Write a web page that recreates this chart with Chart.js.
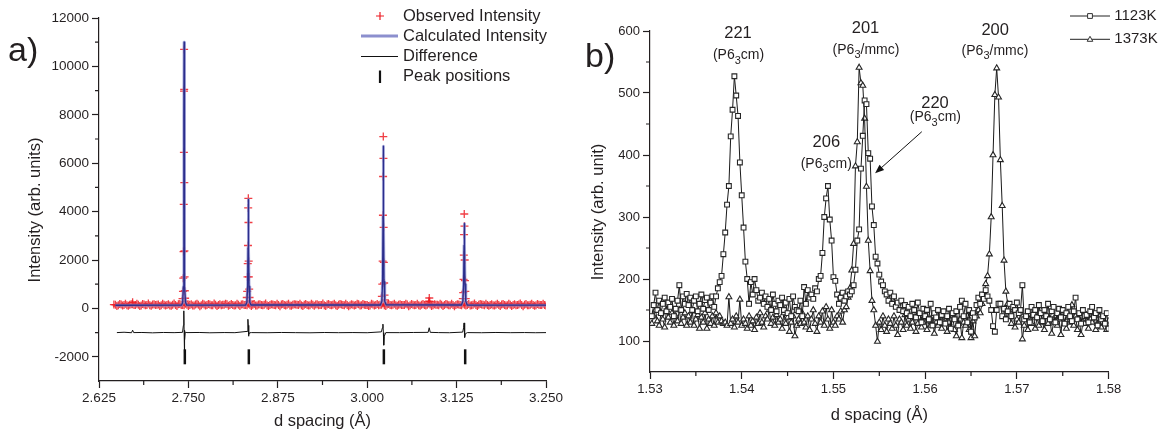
<!DOCTYPE html>
<html>
<head>
<meta charset="utf-8">
<script src="https://cdn.jsdelivr.net/npm/chart.js@4.4.0/dist/chart.umd.min.js"></script>
<style>
  html, body { margin: 0; padding: 0; background: #fff; }
  #wrap { position: relative; width: 1165px; height: 434px; }
  #panelA { position: absolute; left: 0; top: 0; }
  #panelB { position: absolute; left: 580px; top: 0; }
</style>
</head>
<body>
<div id="wrap">
  <canvas id="panelA" width="580" height="434"></canvas>
  <canvas id="panelB" width="585" height="434"></canvas>
</div>
<script>
'use strict';

// ---- panel a) data ----
const aXTicks = [2.625, 2.750, 2.875, 3.000, 3.125, 3.250];
const aXMinor = [2.6875, 2.8125, 2.9375, 3.0625, 3.1875];
const aYTicks = [-2000, 0, 2000, 4000, 6000, 8000, 10000, 12000];
const aYMinor = [-1000, 1000, 3000, 5000, 7000, 9000, 11000];

// observed background, one value every 0.004 A from 2.648 and again from 2.650
const obsBgStart = 2.648;
const obsBgStart2 = 2.650;
const obsBgStep = 0.004;
const obsBackground = [
  150, 135, 160, 142, 128, 155, 170, 138, 148, 125, 160, 145, 132, 158, 140,
  165, 130, 150, 142, 120, 155, 138, 168, 145, 130, 152, 140, 125, 160, 148,
  135, 158, 142, 165, 128, 150, 140, 132, 155, 170, 138, 145, 126, 150, 160,
  140, 130, 155, 148, 122, 162, 138, 150, 135, 145, 158, 128, 142, 165, 136,
  150, 125, 148, 160, 138, 132, 155, 142, 128, 150, 165, 135, 145, 130, 158,
  140, 152, 126, 148, 162, 135, 145, 130, 155, 140, 168, 132, 150, 138, 125,
  158, 145, 135, 150, 128, 162, 140, 148, 132, 155, 138, 145, 160, 130, 150,
  142, 126, 155, 138, 150, 165, 135, 148, 128, 152, 140, 158, 132, 145, 138,
  160, 130, 150, 142, 125, 155, 138, 148, 165, 132, 145, 140, 128, 152, 136,
  158, 142, 130, 150, 145, 126, 160, 138, 148, 135, 155, 140, 130, 150, 145, 138
];
const obsBackground2 = [
  100, 180, 120, 195, 105, 170, 140, 190, 95, 185, 130, 198, 108, 175, 150,
  98, 192, 125, 172, 112, 200, 100, 182, 140, 195, 104, 168, 120, 196, 94,
  188, 115, 178, 130, 198, 96, 172, 150, 192, 108, 182, 125, 196, 100, 168,
  140, 194, 95, 186, 118, 176, 135, 198, 104, 172, 145, 190, 92, 182, 125,
  196, 106, 170, 150, 188, 96, 182, 120, 194, 110, 172, 140, 200, 98, 178,
  130, 192, 102, 186, 145, 196, 94, 172, 125, 194, 115, 182, 140, 98, 190,
  120, 178, 150, 198, 100, 186, 130, 194, 106, 172, 145, 196, 94, 182, 135,
  192, 110, 178, 125, 198, 98, 170, 150, 194, 104, 186, 135, 196, 92, 172,
  140, 194, 115, 182, 130, 200, 96, 178, 150, 192, 106, 172, 125, 196, 98,
  182, 120, 194, 104, 172, 145, 198, 94, 186, 130, 192, 110, 178, 140, 196, 120
];
// observed points on the reflections  [d, intensity]
const obsPeaks = [
  [2.6458, 160], [2.6720, 250],
  [2.7418, 400], [2.7424, 700], [2.7428, 1250], [2.7432, 2350], [2.7435, 4300], [2.7437, 6450],
  [2.7439, 8980], [2.7440, 10700], [2.7441, 9050], [2.7443, 5200], [2.7445, 2380], [2.7447, 1300],
  [2.7450, 730], [2.7454, 420], [2.7460, 300],
  [2.8316, 450], [2.8322, 700], [2.8326, 1300], [2.8330, 1850], [2.8333, 2600], [2.8336, 4150],
  [2.8338, 4550], [2.8340, 3550], [2.8343, 1950], [2.8346, 1300], [2.8350, 800], [2.8355, 450], [2.8360, 300],
  [3.0205, 500], [3.0211, 1000], [3.0216, 1950], [3.0220, 3850], [3.0222, 5450], [3.0225, 7100],
  [3.0227, 6200], [3.0230, 3350], [3.0233, 1900], [3.0237, 1050], [3.0242, 550], [3.0248, 350],
  [3.0862, 300], [3.0868, 430], [3.0874, 280],
  [3.1337, 400], [3.1342, 650], [3.1347, 1200], [3.1351, 2200], [3.1354, 3050], [3.1357, 3900],
  [3.1360, 3400], [3.1363, 2000], [3.1367, 1150], [3.1372, 700], [3.1378, 400]
];
const calcPoints = [
  [2.648, 130], [2.7405, 135], [2.7420, 250], [2.7430, 900], [2.7435, 3500], [2.7438, 8000],
  [2.7440, 11000], [2.7442, 8000], [2.7445, 3500], [2.7450, 900], [2.7460, 250], [2.7475, 140],
  [2.8300, 135], [2.8318, 250], [2.8328, 900], [2.8334, 2500], [2.8338, 4500], [2.8342, 2500],
  [2.8348, 900], [2.8358, 250], [2.8375, 140],
  [3.0185, 140], [3.0205, 300], [3.0215, 1100], [3.0221, 3800], [3.0225, 6700], [3.0229, 3800],
  [3.0235, 1100], [3.0245, 300], [3.0265, 145],
  [3.1318, 140], [3.1338, 300], [3.1348, 1000], [3.1354, 2600], [3.1358, 3500], [3.1362, 2600],
  [3.1368, 1000], [3.1378, 300], [3.1398, 140], [3.250, 135]
];
const diffPoints = [
  [2.650, -1000], [2.660, -985], [2.6705, -1005], [2.6720, -900], [2.6735, -1000], [2.685, -995],
  [2.700, -1010], [2.715, -995], [2.730, -1002], [2.7418, -990], [2.7430, -700], [2.7436, -100],
  [2.7440, -900], [2.7444, -2050], [2.7449, -1300], [2.7456, -980], [2.748, -1000], [2.765, -995],
  [2.780, -1008], [2.800, -998], [2.815, -1003], [2.8322, -950], [2.8332, -450], [2.8337, -700],
  [2.8341, -1150], [2.8346, -1080], [2.8354, -1010], [2.838, -1000], [2.860, -1005], [2.880, -995],
  [2.900, -1002], [2.920, -1008], [2.940, -996], [2.960, -1003], [2.980, -998], [3.000, -1005],
  [3.0198, -970], [3.0213, -800], [3.0220, -650], [3.0226, -1000], [3.0231, -1520], [3.0239, -1150],
  [3.0260, -1000], [3.045, -1002], [3.065, -995], [3.0852, -990], [3.0867, -800], [3.0882, -990],
  [3.100, -1000], [3.115, -1005], [3.1335, -980], [3.1348, -800], [3.1354, -600], [3.1360, -900],
  [3.1365, -1200], [3.1372, -1050], [3.1400, -1000], [3.160, -1005], [3.180, -995], [3.200, -1003],
  [3.220, -998], [3.235, -1005], [3.250, -1000]
];
const peakPosD = [2.7450, 2.8345, 3.0233, 3.1370];
const peakPosI = [-2000, -2000, -2000, -2000];

// ---- panel b) data ----
const bXTicks = [1.53, 1.54, 1.55, 1.56, 1.57, 1.58];
const bXMinor = [1.535, 1.545, 1.555, 1.565, 1.575];
const bYTicks = [100, 200, 300, 400, 500, 600];
const bYMinor = [150, 250, 350, 450, 550];

// one value every 0.0002 A from 1.5302
const bStart = 1.5302;
const bStep = 0.0002;
const k1123 = [
  140, 158, 178, 150, 165, 145, 160, 170, 148, 162,
  155, 168, 140, 152, 165, 190, 150, 172, 160, 176,
  158, 170, 150, 165, 172, 148, 160, 175, 152, 166,
  170, 150, 162, 172, 155, 172, 185, 195, 205, 240,
  275, 320, 350, 430, 473, 527, 496, 463, 388, 335,
  283, 228, 200, 160, 195, 175, 200, 182, 165, 170,
  178, 160, 172, 155, 168, 150, 175, 160, 148, 165,
  158, 170, 150, 162, 145, 168, 140, 172, 155, 150,
  148, 165, 140, 187, 160, 182, 170, 175, 168, 185,
  180, 200, 205, 242, 300, 330, 350, 296, 262, 203,
  197, 175, 160, 170, 178, 165, 172, 180, 175, 180,
  190, 215, 262, 280, 378, 431, 488, 482, 403, 394,
  317, 287, 236, 225, 207, 196, 190, 180, 175, 165,
  178, 160, 172, 155, 162, 150, 165, 148, 158, 145,
  155, 140, 160, 150, 138, 162, 145, 130, 152, 140,
  150, 135, 160, 125, 145, 138, 150, 130, 142, 148,
  128, 140, 152, 120, 145, 135, 148, 125, 155, 165,
  140, 160, 130, 150, 115, 145, 138, 158, 170, 160,
  175, 168, 182, 172, 165, 150, 124, 115, 150, 160,
  160, 140, 152, 135, 148, 160, 140, 155, 150, 162,
  145, 150, 190, 135, 140, 148, 130, 155, 142, 150,
  138, 158, 145, 132, 150, 140, 160, 135, 148, 155,
  130, 145, 152, 138, 150, 128, 145, 155, 140, 132,
  148, 170, 135, 145, 128, 150, 140, 142, 130, 148,
  155, 138, 145, 125, 150, 135, 140, 128, 145, 120
];
const k1373 = [
  128, 140, 150, 132, 125, 145, 135, 122, 150, 138,
  130, 145, 125, 140, 132, 150, 128, 138, 145, 125,
  140, 130, 148, 125, 135, 142, 120, 138, 130, 145,
  120, 135, 128, 140, 125, 145, 130, 140, 132, 128,
  130, 125, 171, 128, 135, 122, 140, 130, 167, 125,
  135, 128, 120, 140, 125, 132, 118, 138, 128, 145,
  130, 122, 140, 135, 150, 128, 138, 125, 142, 130,
  135, 120, 145, 128, 138, 115, 130, 140, 108, 125,
  135, 128, 145, 130, 122, 140, 118, 135, 150, 128,
  115, 140, 130, 148, 125, 155, 135, 120, 150, 130,
  125, 140, 135, 148, 130, 150, 155, 170, 185, 214,
  257, 382, 421, 541, 516, 512, 459, 349, 262, 213,
  165, 150, 125, 99, 130, 118, 140, 125, 115, 135,
  128, 120, 140, 125, 110, 135, 130, 118, 142, 125,
  135, 120, 130, 145, 115, 128, 138, 122, 130, 140,
  118, 132, 125, 140, 112, 130, 125, 138, 120, 128,
  135, 115, 130, 122, 140, 118, 108, 128, 135, 105,
  130, 125, 140, 118, 105, 132, 108, 140, 150, 145,
  160, 175, 192, 205, 240, 300, 400, 497, 540, 493,
  392, 318, 230, 180, 160, 140, 128, 150, 122, 135,
  130, 145, 103, 125, 140, 118, 135, 128, 145, 120,
  138, 125, 150, 130, 118, 142, 128, 135, 112, 130,
  140, 125, 135, 110, 145, 128, 120, 138, 130, 158,
  125, 140, 118, 135, 110, 130, 128, 142, 120, 135,
  130, 145, 118, 128, 140, 122, 135, 128, 118, 132
];
const bPeakNames = ['221', '201', '206', '220', '200'];
const bPhaseTails = ['cm)', '/mmc)', 'cm)', 'cm)', '/mmc)'];

// ---- drawing ----
const FONT = "'Liberation Sans', Arial, Helvetica, sans-serif";
const AXIS = '#231f20';
Chart.defaults.font.family = FONT;
Chart.defaults.color = AXIS;

const toXY = p => ({ x: p[0], y: p[1] });
const obsData = obsBackground.map((v, i) => ({ x: obsBgStart + i * obsBgStep, y: v }))
  .concat(obsBackground2.map((v, i) => ({ x: obsBgStart2 + i * obsBgStep, y: v })))
  .concat(obsPeaks.map(toXY));
const calcData = calcPoints.map(toXY);
const diffData = diffPoints.map(toXY);
const tickData = peakPosD.map((d, i) => ({ x: d, y: peakPosI[i] }));
const d1123 = k1123.map((v, i) => ({ x: bStart + i * bStep, y: v }));
const d1373 = k1373.map((v, i) => ({ x: bStart + i * bStep, y: v }));

function axisOpts(ticks, fmt, size, pad, min, max, fit) {
  return {
    type: 'linear', min: min, max: max,
    afterBuildTicks: s => { s.ticks = ticks.map(v => ({ value: v })); },
    afterFit: fit,
    ticks: { callback: fmt, font: { size: size }, color: AXIS, padding: pad, maxRotation: 0, autoSkip: false },
    grid: { drawOnChartArea: false, drawTicks: true, tickLength: 7, tickColor: AXIS, tickWidth: 1.2 },
    border: { display: true, color: AXIS, width: 1.2 }
  };
}

function minorTicks(chart, xs, ys) {
  const ctx = chart.ctx, a = chart.chartArea;
  ctx.strokeStyle = AXIS;
  ctx.lineWidth = 1.2;
  ctx.beginPath();
  xs.forEach(v => {
    const px = chart.scales.x.getPixelForValue(v);
    ctx.moveTo(px, a.bottom); ctx.lineTo(px, a.bottom + 4);
  });
  ys.forEach(v => {
    const py = chart.scales.y.getPixelForValue(v);
    ctx.moveTo(a.left - 4, py); ctx.lineTo(a.left, py);
  });
  ctx.stroke();
}

function axisTitles(ctx, xText, xc, xy, yText, yx, yc) {
  ctx.fillStyle = AXIS;
  ctx.font = '16.5px ' + FONT;
  ctx.textAlign = 'center';
  ctx.textBaseline = 'middle';
  ctx.fillText(xText, xc, xy);
  ctx.save();
  ctx.translate(yx, yc);
  ctx.rotate(-Math.PI / 2);
  ctx.fillText(yText, 0, 0);
  ctx.restore();
}

function drawPhase(ctx, tail, cx, cy) {
  const big = '14px ' + FONT, small = '11px ' + FONT;
  ctx.font = big;
  const w1 = ctx.measureText('(P6').width;
  const w3 = ctx.measureText(tail).width;
  ctx.font = small;
  const w2 = ctx.measureText('3').width;
  let x = cx - (w1 + w2 + w3) / 2;
  ctx.textAlign = 'left';
  ctx.textBaseline = 'middle';
  ctx.font = big; ctx.fillText('(P6', x, cy); x += w1;
  ctx.font = small; ctx.fillText('3', x, cy + 5); x += w2;
  ctx.font = big; ctx.fillText(tail, x, cy);
}

const overlayA = {
  id: 'overlayA',
  afterDraw(chart) {
    const ctx = chart.ctx, a = chart.chartArea;
    ctx.save();
    minorTicks(chart, aXMinor, aYMinor);
    axisTitles(ctx, 'd spacing (Å)', (a.left + a.right) / 2, 421, 'Intensity (arb. units)', 35, 210);

    ctx.font = '34px ' + FONT;
    ctx.textAlign = 'left';
    ctx.textBaseline = 'alphabetic';
    ctx.fillText('a)', 8, 61);

    // legend
    ctx.strokeStyle = 'rgb(237,28,36)';
    ctx.lineWidth = 1.2;
    ctx.beginPath();
    ctx.moveTo(376, 16); ctx.lineTo(384, 16);
    ctx.moveTo(380, 12); ctx.lineTo(380, 20);
    ctx.stroke();
    ctx.strokeStyle = 'rgb(140,143,206)';
    ctx.lineWidth = 3;
    ctx.beginPath(); ctx.moveTo(361, 36); ctx.lineTo(398, 36); ctx.stroke();
    ctx.strokeStyle = '#111';
    ctx.lineWidth = 1.2;
    ctx.beginPath(); ctx.moveTo(361, 56.5); ctx.lineTo(398, 56.5); ctx.stroke();
    ctx.lineWidth = 2.2;
    ctx.beginPath(); ctx.moveTo(380, 70.5); ctx.lineTo(380, 83); ctx.stroke();

    ctx.fillStyle = AXIS;
    ctx.font = '16.5px ' + FONT;
    ctx.textBaseline = 'middle';
    ['Observed Intensity', 'Calculated Intensity', 'Difference', 'Peak positions']
      .forEach((t, i) => ctx.fillText(t, 403, [16, 36, 56.5, 76.5][i]));
    ctx.restore();
  }
};

const overlayB = {
  id: 'overlayB',
  afterDraw(chart) {
    const ctx = chart.ctx, a = chart.chartArea;
    ctx.save();
    minorTicks(chart, bXMinor, bYMinor);
    axisTitles(ctx, 'd spacing (Å)', (a.left + a.right) / 2, 415, 'Intensity (arb. unit)', 18.7, 212);

    ctx.font = '34px ' + FONT;
    ctx.textAlign = 'left';
    ctx.textBaseline = 'alphabetic';
    ctx.fillText('b)', 5, 66.5);

    // peak labels
    const nameAt = [[158, 33.3], [285.5, 28.5], [246.3, 142.7], [355, 103.3], [415.2, 30]];
    const phaseAt = [[158.5, 55.5], [286, 50], [246.3, 164], [355.4, 117.5], [415, 51]];
    bPeakNames.forEach((n, i) => {
      ctx.font = '16.5px ' + FONT;
      ctx.textAlign = 'center';
      ctx.textBaseline = 'middle';
      ctx.fillText(n, nameAt[i][0], nameAt[i][1]);
      drawPhase(ctx, bPhaseTails[i], phaseAt[i][0], phaseAt[i][1]);
    });

    // arrow to the 220 reflection
    const x0 = 341.8, y0 = 131.7, x1 = 295.1, y1 = 173.3;
    const ang = Math.atan2(y1 - y0, x1 - x0);
    ctx.strokeStyle = '#111';
    ctx.fillStyle = '#111';
    ctx.lineWidth = 1;
    ctx.beginPath(); ctx.moveTo(x0, y0); ctx.lineTo(x1 - 6 * Math.cos(ang), y1 - 6 * Math.sin(ang)); ctx.stroke();
    ctx.beginPath();
    ctx.moveTo(x1, y1);
    ctx.lineTo(x1 - 9 * Math.cos(ang) + 3.5 * Math.sin(ang), y1 - 9 * Math.sin(ang) - 3.5 * Math.cos(ang));
    ctx.lineTo(x1 - 9 * Math.cos(ang) - 3.5 * Math.sin(ang), y1 - 9 * Math.sin(ang) + 3.5 * Math.cos(ang));
    ctx.closePath();
    ctx.fill();

    // legend
    [16, 39.3].forEach((ly, i) => {
      ctx.strokeStyle = '#222';
      ctx.lineWidth = 1;
      ctx.beginPath(); ctx.moveTo(490, ly); ctx.lineTo(530, ly); ctx.stroke();
      ctx.fillStyle = '#fff';
      ctx.strokeStyle = '#333';
      ctx.beginPath();
      if (i === 0) {
        ctx.rect(507.6, ly - 2.4, 4.8, 4.8);
      } else {
        ctx.moveTo(510, ly - 3); ctx.lineTo(512.8, ly + 2); ctx.lineTo(507.2, ly + 2); ctx.closePath();
      }
      ctx.fill(); ctx.stroke();
    });
    ctx.fillStyle = AXIS;
    ctx.font = '15px ' + FONT;
    ctx.textAlign = 'left';
    ctx.textBaseline = 'middle';
    ctx.fillText('1123K', 534.3, 16);
    ctx.fillText('1373K', 534.3, 39.3);
    ctx.restore();
  }
};

const baseOpts = { responsive: false, animation: false, events: [], devicePixelRatio: 1 };

new Chart(document.getElementById('panelA'), {
  type: 'scatter',
  data: {
    datasets: [
      { label: 'Calculated Intensity', data: calcData, showLine: true, borderColor: '#2b2e8c', borderWidth: 1.3,
        borderJoinStyle: 'round', pointRadius: 0, order: 0 },
      { label: 'Calculated halo', data: calcData, showLine: true, borderColor: 'rgba(140,143,210,0.7)', borderWidth: 3,
        borderJoinStyle: 'round', pointRadius: 0, order: 1 },
      { label: 'Difference', data: diffData, showLine: true, borderColor: '#111', borderWidth: 1, pointRadius: 0, order: 2 },
      { label: 'Peak positions', data: tickData, pointStyle: 'line', pointRotation: 90, pointRadius: 7.5,
        pointBorderWidth: 2.5, pointBorderColor: '#111', order: 3 },
      { label: 'Observed Intensity', data: obsData, pointStyle: 'cross', pointRadius: 4, pointBorderWidth: 1.3,
        pointBorderColor: 'rgba(237,28,36,0.85)', order: 4 }
    ]
  },
  options: Object.assign({}, baseOpts, {
    layout: { padding: { left: 0, right: 34, top: 18, bottom: 0 } },
    plugins: { legend: { display: false }, tooltip: { enabled: false } },
    scales: {
      x: axisOpts(aXTicks, v => v.toFixed(3), 13.5, 2, 2.625, 3.25, s => { s.height = 53; }),
      y: axisOpts(aYTicks, v => String(v), 13.5, 3, -3000, 12000, s => { s.width = 99; })
    }
  }),
  plugins: [overlayA]
});

new Chart(document.getElementById('panelB'), {
  type: 'scatter',
  data: {
    datasets: [
      { label: '1123K', data: d1123, showLine: true, borderColor: '#1a1a1a', borderWidth: 1,
        pointStyle: 'rect', pointRadius: 3.4, pointBackgroundColor: '#fff', pointBorderColor: '#262626', pointBorderWidth: 1.1 },
      { label: '1373K', data: d1373, showLine: true, borderColor: '#1a1a1a', borderWidth: 1,
        pointStyle: 'triangle', pointRadius: 3.4, pointBackgroundColor: '#fff', pointBorderColor: '#262626', pointBorderWidth: 1.1 }
    ]
  },
  options: Object.assign({}, baseOpts, {
    layout: { padding: { left: 0, right: 56.4, top: 31, bottom: 0 } },
    plugins: { legend: { display: false }, tooltip: { enabled: false } },
    scales: {
      x: axisOpts(bXTicks, v => v.toFixed(2), 13, 3, 1.53, 1.58, s => { s.height = 62; }),
      y: axisOpts(bYTicks, v => String(v), 13, 3, 50, 600, s => { s.width = 70; })
    }
  }),
  plugins: [overlayB]
});
</script>
</body>
</html>
